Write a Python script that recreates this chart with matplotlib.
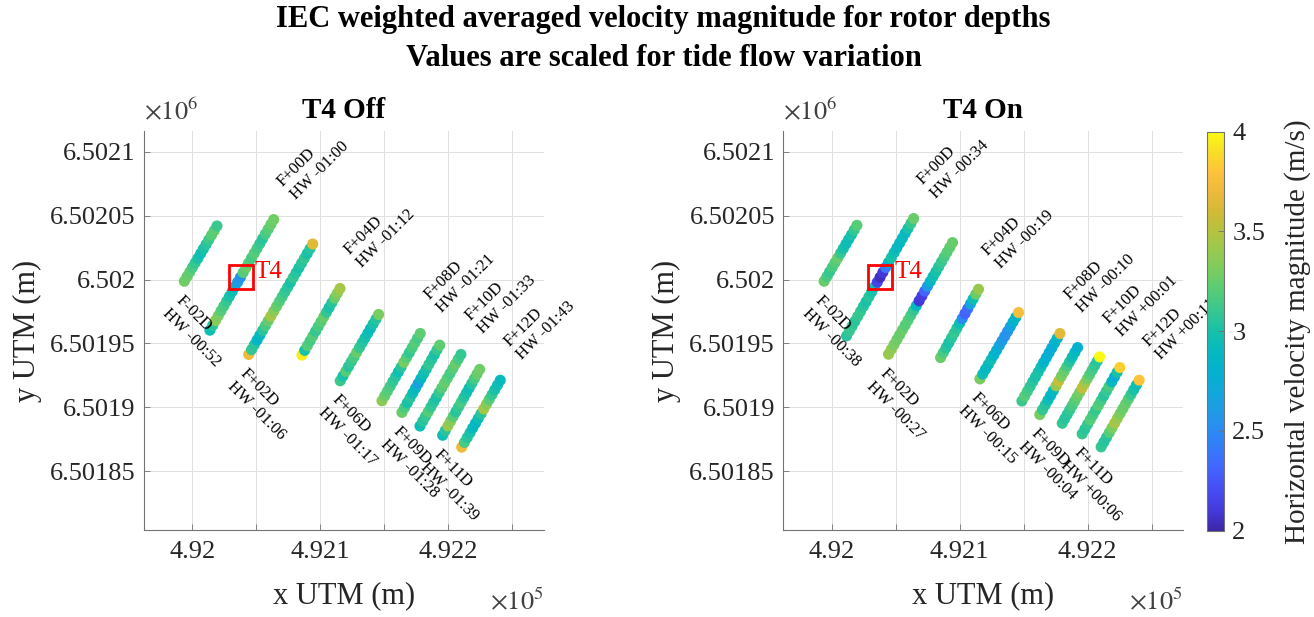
import numpy as np
import matplotlib
matplotlib.use("Agg")
import matplotlib.pyplot as plt
from matplotlib.colors import LinearSegmentedColormap
from matplotlib.patches import Rectangle

plt.rcParams['font.family'] = ['Liberation Serif', 'DejaVu Serif']
plt.rcParams['mathtext.fontset'] = 'stix'

# transect names, in survey order
track_names = ['F-02D', 'F+00D', 'F+02D', 'F+04D', 'F+06D',
               'F+08D', 'F+09D', 'F+10D', 'F+11D', 'F+12D']
off_hw = ['HW -00:52', 'HW -01:00', 'HW -01:06', 'HW -01:12', 'HW -01:17',
          'HW -01:21', 'HW -01:28', 'HW -01:33', 'HW -01:39', 'HW -01:43']
on_hw = ['HW -00:38', 'HW -00:34', 'HW -00:27', 'HW -00:19', 'HW -00:15',
         'HW -00:10', 'HW -00:04', 'HW +00:01', 'HW +00:06', 'HW +00:11']
label_on_top = [False, True, False, True, False, True, False, True, False, True]

# transect end points (UTM), lower end then upper end
off_x0 = [491993.8, 492013.8, 492044.1, 492085.7, 492115.6, 492148.2, 492163.8, 492177.9, 492195.6, 492210.5]
off_y0 = [6501998.7, 6501960.4, 6501941.4, 6501940.9, 6501920.8, 6501905.2, 6501896.1, 6501885.4, 6501878.2, 6501868.9]
off_x1 = [492019.3, 492063.6, 492094.1, 492115.4, 492145.6, 492178.1, 492193.3, 492209.9, 492224.5, 492240.6]
off_y1 = [6502041.9, 6502046.9, 6502027.8, 6501993.0, 6501972.7, 6501957.8, 6501948.7, 6501941.4, 6501929.7, 6501921.2]

on_x0 = [491994.2, 492011.7, 492044.5, 492085.2, 492115.9, 492148.7, 492162.7, 492180.2, 492195.8, 492210.6]
on_y0 = [6501998.7, 6501955.9, 6501941.6, 6501939.0, 6501922.3, 6501905.0, 6501894.4, 6501887.6, 6501879.3, 6501869.1]
on_x1 = [492019.8, 492064.1, 492094.5, 492114.8, 492146.1, 492178.4, 492192.2, 492209.4, 492225.2, 492240.3]
on_y1 = [6502042.4, 6502047.7, 6502028.9, 6501992.4, 6501974.2, 6501957.8, 6501946.8, 6501939.5, 6501931.2, 6501921.3]

# velocity magnitude along each transect (m/s), lower end to upper end
off_speed = [
    [3.28, 3.25, 3.22, 3.15, 3.1, 3.0, 2.95, 3.0, 3.05, 3.12, 3.2, 3.22, 3.12],
    [2.95, 3.05, 3.35, 3.3, 3.2, 3.15, 3.1, 3.0, 2.95, 2.8, 2.6, 2.55, 3.2, 3.25, 3.2, 3.15, 3.2, 3.15, 3.1, 3.05, 3.15, 3.2, 3.25, 3.28],
    [3.7, 3.1, 3.05, 2.85, 2.9, 3.05, 3.15, 3.25, 3.45, 3.35, 3.25, 3.2, 3.15, 3.1, 3.05, 3.0, 3.1, 3.05, 3.0, 3.05, 3.1, 3.0, 3.05, 3.65],
    [3.95, 3.0, 3.2, 3.15, 3.2, 3.1, 3.15, 3.2, 3.25, 3.1, 3.0, 3.05, 3.25, 3.35, 3.45],
    [3.12, 3.0, 3.2, 3.05, 3.1, 3.15, 3.25, 3.1, 3.05, 3.0, 2.95, 2.92, 3.0, 3.05, 3.3],
    [3.38, 3.25, 3.2, 3.15, 3.1, 3.05, 2.95, 3.05, 3.3, 3.2, 3.1, 3.15, 3.2, 3.15, 3.22],
    [3.25, 3.15, 3.0, 3.05, 2.95, 2.9, 2.65, 2.85, 2.95, 3.0, 3.1, 3.05, 3.0, 3.1, 3.22],
    [2.95, 3.05, 3.1, 3.2, 3.1, 3.05, 3.0, 3.1, 3.2, 3.25, 3.2, 3.15, 3.2, 3.25, 3.15, 3.1],
    [2.95, 3.05, 3.4, 3.35, 3.2, 3.05, 3.1, 3.15, 3.05, 3.0, 2.95, 3.05, 3.15, 3.25, 3.28],
    [3.7, 3.15, 3.05, 3.0, 2.9, 2.88, 2.95, 3.05, 3.45, 3.35, 3.2, 3.1, 3.0, 2.95, 2.92],
]
on_speed = [
    [3.25, 3.15, 3.1, 3.15, 3.2, 3.25, 3.1, 3.0, 2.95, 2.95, 3.0, 3.1, 3.2],
    [3.05, 3.1, 3.1, 3.05, 3.1, 3.1, 3.05, 3.0, 3.05, 3.0, 2.95, 2.15, 2.05, 2.1, 2.4, 2.85, 3.0, 2.95, 2.9, 2.88, 2.92, 2.9, 3.0, 3.1, 3.25],
    [3.4, 3.38, 3.3, 3.28, 3.25, 3.25, 3.2, 3.2, 3.15, 3.1, 2.9, 2.1, 2.12, 2.3, 2.6, 2.85, 2.95, 3.0, 3.05, 3.1, 3.15, 3.2, 3.22, 3.25],
    [3.25, 3.15, 3.05, 3.0, 3.05, 3.1, 3.05, 2.95, 2.5, 2.3, 2.35, 2.7, 2.95, 3.25, 3.4],
    [3.3, 2.95, 2.9, 2.9, 2.95, 2.85, 2.8, 2.7, 2.6, 2.55, 2.55, 2.65, 2.8, 2.85, 3.75],
    [3.12, 3.2, 3.15, 3.1, 3.05, 3.0, 3.0, 2.95, 2.85, 2.8, 2.75, 2.75, 2.8, 2.85, 3.65],
    [3.3, 3.1, 3.05, 2.95, 2.85, 2.9, 3.4, 3.55, 3.3, 3.25, 3.15, 3.05, 2.95, 2.9, 2.8],
    [3.1, 3.05, 3.05, 3.1, 3.15, 3.2, 3.25, 3.3, 3.55, 3.45, 3.3, 3.2, 3.15, 3.1, 3.05, 4.0],
    [3.1, 3.05, 3.1, 3.2, 3.15, 3.1, 3.2, 3.15, 3.05, 3.1, 3.15, 2.9, 2.75, 3.0, 3.85],
    [3.1, 3.05, 3.05, 3.2, 3.3, 3.45, 3.4, 3.3, 3.25, 3.25, 3.2, 3.1, 3.0, 2.95, 3.8],
]

t4_x, t4_y = 492038.0, 6502002.0

xticks = [492000, 492050, 492100, 492150, 492200, 492250]
xticklabels = ['4.92', '', '4.921', '', '4.922', '']
yticks = [6501850, 6501900, 6501950, 6502000, 6502050, 6502100]
yticklabels = ['6.50185', '6.5019', '6.50195', '6.502', '6.50205', '6.5021']

# parula-like colormap
parula = LinearSegmentedColormap.from_list('parula', [
    (0.00, (0.2422, 0.1504, 0.6603)),
    (0.05, (0.2670, 0.2270, 0.8550)),
    (0.10, (0.2800, 0.3000, 0.9500)),
    (0.15, (0.2650, 0.3850, 0.9900)),
    (0.20, (0.2100, 0.4750, 0.9850)),
    (0.25, (0.1650, 0.5450, 0.9500)),
    (0.30, (0.1200, 0.6100, 0.9000)),
    (0.35, (0.0650, 0.6600, 0.8500)),
    (0.40, (0.0150, 0.6950, 0.8100)),
    (0.45, (0.0200, 0.7250, 0.7500)),
    (0.50, (0.0900, 0.7550, 0.6600)),
    (0.55, (0.2100, 0.7800, 0.5700)),
    (0.60, (0.3300, 0.8000, 0.4700)),
    (0.65, (0.4700, 0.8000, 0.3800)),
    (0.70, (0.5900, 0.7900, 0.3100)),
    (0.75, (0.7100, 0.7650, 0.2500)),
    (0.80, (0.8200, 0.7300, 0.2100)),
    (0.85, (0.9300, 0.7300, 0.2300)),
    (0.90, (0.9950, 0.7600, 0.2300)),
    (0.95, (0.9700, 0.8700, 0.1500)),
    (1.00, (0.9769, 0.9839, 0.0805)),
])

W, H = 1314, 617
fig = plt.figure(figsize=(W / 100, H / 100), dpi=100)
ax_off = fig.add_axes([144 / W, (H - 530) / H, 399.5 / W, 399 / H])
ax_on = fig.add_axes([783.3 / W, (H - 530) / H, 399.5 / W, 399 / H])
cax = fig.add_axes([1206.7 / W, (H - 530.7) / H, 17.3 / W, 399 / H])

fig.text(0.505, 1 - 19 / H, 'IEC weighted averaged velocity magnitude for rotor depths',
         ha='center', va='center', fontsize=22, fontweight='bold')
fig.text(0.505, 1 - 58 / H, 'Values are scaled for tide flow variation',
         ha='center', va='center', fontsize=22, fontweight='bold')


def draw_panel(ax, title, x0, y0, x1, y1, speed, hw):
    for i in range(len(track_names)):
        n = len(speed[i])
        xs = np.linspace(x0[i], x1[i], n)
        ys = np.linspace(y0[i], y1[i], n)
        sc = ax.scatter(xs, ys, c=speed[i], cmap=parula, vmin=2, vmax=4,
                        s=64, linewidths=0, zorder=3)
        txt = track_names[i] + '\n' + hw[i]
        if label_on_top[i]:
            ax.text(x1[i] + 10, y1[i] + 23, txt, rotation=45, rotation_mode='anchor',
                    ha='left', va='center', fontsize=12, zorder=4)
        else:
            ax.text(x0[i] - 10, y0[i] - 18, txt, rotation=-45, rotation_mode='anchor',
                    ha='left', va='center', fontsize=12, zorder=4)

    ax.add_patch(Rectangle((t4_x - 9.5, t4_y - 9.5), 19, 19, fill=False,
                           edgecolor='red', linewidth=2.0, zorder=5))
    ax.text(t4_x + 11, t4_y + 4, 'T4', color='red', fontsize=18,
            ha='left', va='center', zorder=5)

    ax.set_xlim(491962.3, 492274.4)
    ax.set_ylim(6501804.1, 6502116.2)
    ax.set_xticks(xticks)
    ax.set_xticklabels(xticklabels)
    ax.set_yticks(yticks)
    ax.set_yticklabels(yticklabels)
    ax.grid(True, color='0.88', linewidth=0.7)
    ax.set_axisbelow(True)
    for s in ['top', 'right']:
        ax.spines[s].set_visible(False)
    for s in ['left', 'bottom']:
        ax.spines[s].set_color('0.45')
        ax.spines[s].set_linewidth(0.8)
    ax.tick_params(direction='in', length=4, width=0.6, color='0.45',
                   labelsize=19, labelcolor='0.15', pad=6)
    ax.tick_params(axis='x', pad=8)

    ax.set_xlabel('x UTM (m)', fontsize=22, color='0.15')
    ax.xaxis.set_label_coords(0.5, -(596 - 530) / 399)
    ax.xaxis.label.set_va('center')
    ax.set_ylabel('y UTM (m)', fontsize=22, color='0.15')
    ax.yaxis.set_label_coords((27 - 144) / 399.5, 0.5)
    ax.yaxis.label.set_va('center')

    ax.text(0.5, 1 + (131 - 111) / 399, title, transform=ax.transAxes,
            ha='center', va='center', fontsize=21, fontweight='bold')
    ax.text(0.0, 1 + (131 - 111) / 399, r'$\times10^{6}$', transform=ax.transAxes,
            ha='left', va='center', fontsize=19, color='0.25')
    ax.text(1.0, -(601 - 530) / 399, r'$\times10^{5}$', transform=ax.transAxes,
            ha='right', va='center', fontsize=19, color='0.25')
    return sc


draw_panel(ax_off, 'T4 Off', off_x0, off_y0, off_x1, off_y1, off_speed, off_hw)
sc = draw_panel(ax_on, 'T4 On', on_x0, on_y0, on_x1, on_y1, on_speed, on_hw)

cb = fig.colorbar(sc, cax=cax, ticks=[2, 2.5, 3, 3.5, 4])
cb.ax.set_yticklabels(['2', '2.5', '3', '3.5', '4'])
cb.ax.tick_params(direction='in', length=4, width=0.6, color='0.45',
                  labelsize=19, labelcolor='0.15', pad=6)
cb.outline.set_edgecolor('0.45')
cb.outline.set_linewidth(0.8)
cb.set_label('Horizontal velocity magnitude (m/s)', fontsize=21, color='0.15')
cb.ax.yaxis.set_label_coords((1298 - 1206.7) / 17.3, 0.5)
cb.ax.yaxis.label.set_va('center')

fig.savefig('out.png', dpi=100)
